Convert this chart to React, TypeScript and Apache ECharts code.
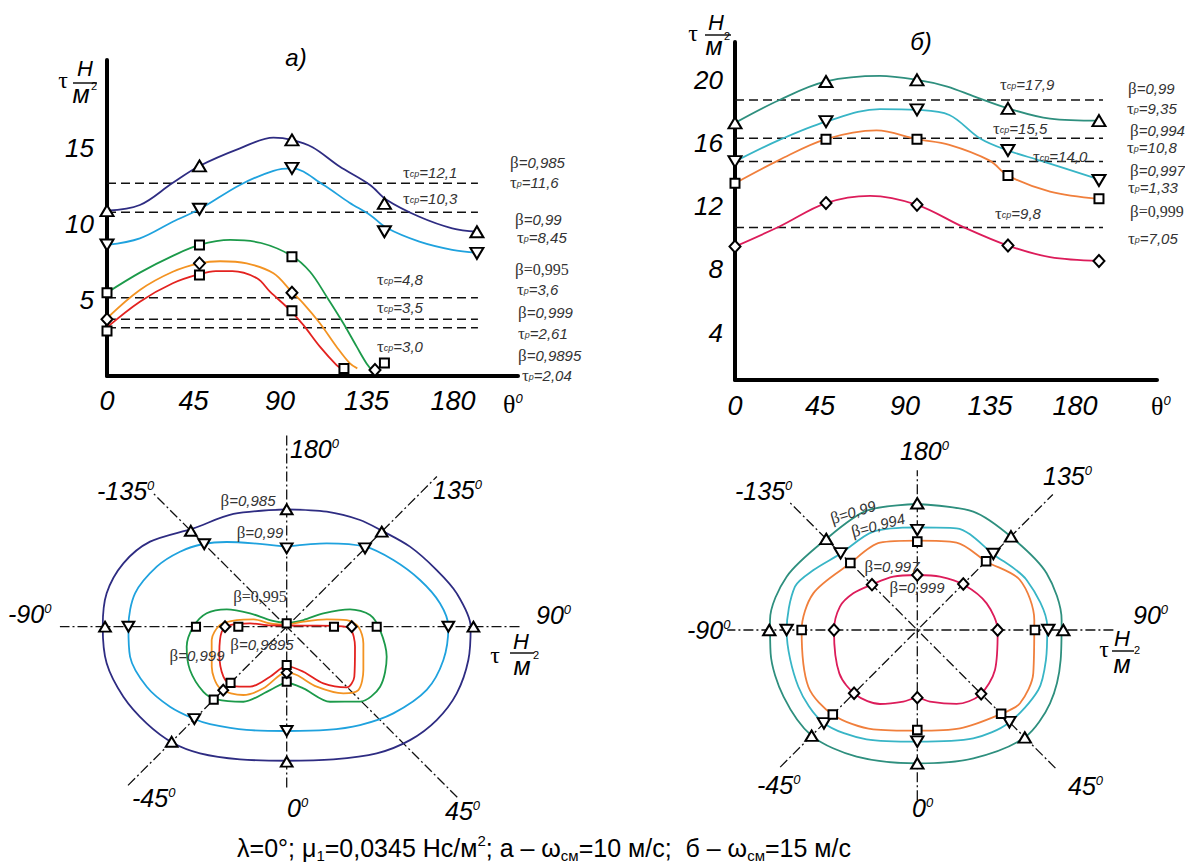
import React, { useEffect, useRef } from "react";
import * as echarts from "echarts";

const SANS = "Liberation Sans, Arial, sans-serif";
const SERIF = "Liberation Serif, Times New Roman, serif";

// ================= (а) ω = 10 м/с : τ(θ) =================
const aColors = ["#2e2c82", "#1fa2de", "#1c9a4a", "#f39322", "#e3221f"];
const aBeta = ["0,985", "0,99", "0,995", "0,999", "0,9895"];
const aTauP = ["11,6", "8,45", "3,6", "2,61", "2,04"];
const aTauMeanText = ["12,1", "10,3", "4,8", "3,5", "3,0"];
const aTauMeanLevel = [12.68, 10.77, 5.15, 3.73, 3.18];

const aCurve985 = [[0, 10.88], [16, 11.25], [31.7, 12.68], [45, 13.82], [64.7, 14.98], [81, 15.68], [90, 15.53], [100, 15.05], [113, 13.8], [128, 12.57], [136, 11.6], [152, 10.48], [168, 9.72], [180, 9.49]];
const aCurve99 = [[0, 8.62], [16, 9.06], [32, 10.15], [45, 10.97], [64.7, 12.57], [81, 13.5], [90, 13.66], [105, 12.6], [118, 11.4], [128, 10.6], [136, 9.75], [152, 8.84], [168, 8.3], [180, 8.1]];
const aCurve995 = [[0, 5.48], [16, 6.8], [32, 7.9], [45, 8.62], [60, 8.95], [75, 8.75], [90, 7.9], [98.8, 6.86], [106.9, 5.22], [115, 3.47], [121.5, 1.93], [126.3, 0.83], [129.6, 0.28]];
const aCurve999 = [[0, 3.8], [16, 5.66], [32, 6.86], [45, 7.41], [55, 7.55], [68, 7.41], [81, 6.76], [89.8, 5.55], [95.5, 4.78], [103.6, 3.47], [111.7, 1.93], [118.2, 0.83], [121.8, 0.5]];
const aCurve9895 = [[0, 3.2], [16, 4.89], [32, 6.1], [45, 6.7], [53, 6.9], [61, 6.9], [73, 6.43], [79.3, 5.55], [89, 4.34], [95.5, 3.36], [103.6, 1.93], [111.7, 0.72], [114.2, 0.5]];

const aMarks985 = [[0, 10.88], [45, 13.82], [90, 15.53], [135, 11.36], [180, 9.49]];
const aMarks99 = [[0, 8.62], [45, 10.97], [90, 13.66], [135, 9.49], [180, 8.07]];
const aMarks995 = [[0, 5.48], [45, 8.62], [90, 7.85], [135, 0.85]];
const aMarks999 = [[0, 3.73], [45, 7.41], [90, 5.48], [130.4, 0.39]];
const aMarks9895 = [[0, 2.96], [45, 6.64], [90, 4.3], [115.3, 0.5]];

// ================= (б) ω = 15 м/с : τ(θ) =================
const bColors = ["#2e8f7e", "#38b5c6", "#f07f3c", "#dc1c5a"];
const bBeta = ["0,99", "0,994", "0,997", "0,999"];
const bTauP = ["9,35", "10,8", "1,33", "7,05"];
const bTauMeanText = ["17,9", "15,5", "14,0", "9,8"];
const bTauMeanLevel = [18.73, 16.31, 14.83, 10.65];

const bCurve99 = [[0, 17.28], [22, 18.73], [45, 19.9], [71.7, 20.25], [90, 20.0], [105, 19.58], [118.5, 18.94], [135, 18.2], [155.8, 17.55], [180, 17.42]];
const bCurve994 = [[0, 14.83], [22, 16.2], [45, 17.36], [71.7, 18.15], [90, 18.1], [106, 17.78], [121, 16.31], [135, 15.53], [151, 14.89], [180, 13.7]];
const bCurve997 = [[0, 13.46], [22, 14.94], [45, 16.25], [70, 16.8], [90, 16.25], [106, 15.89], [126, 14.89], [135, 13.94], [155.8, 12.93], [180, 12.47]];
const bCurve999 = [[0, 9.45], [22, 10.72], [45, 12.2], [66.8, 12.66], [90, 12.09], [113, 10.68], [135, 9.51], [155.8, 8.78], [180, 8.54]];

const bMarks99 = [[0, 17.28], [45, 19.9], [90, 20.0], [135, 18.2], [180, 17.42]];
const bMarks994 = [[0, 14.83], [45, 17.36], [90, 18.1], [135, 15.53], [180, 13.63]];
const bMarks997 = [[0, 13.46], [45, 16.25], [90, 16.25], [135, 13.94], [180, 12.47]];
const bMarks999 = [[0, 9.45], [45, 12.2], [90, 12.09], [135, 9.51], [180, 8.54]];

// ================= polar (а): [θ, τ] =================
const paCurve985 = [[180, 9.78], [160.8, 10.15], [145.5, 10.79], [135.3, 11.26], [123, 12.25], [110.7, 13.36], [101.1, 14.44], [90, 15.33], [79.6, 15.39], [68.6, 15.22], [58.1, 14.72], [47.4, 13.96], [35.4, 12.95], [19.4, 11.72], [0, 11.17], [-19.4, 11.72], [-34.4, 12.79], [-44.5, 13.56], [-55.4, 14.18], [-66.8, 14.81], [-78.5, 15.31], [-90, 15.33], [-100.5, 15.26], [-111.2, 14.6], [-121.9, 13.41], [-136.5, 11.3], [-154.7, 10.39], [-180, 9.78]];
const paCurve99 = [[180, 6.67], [154.4, 7.7], [135.6, 9.33], [122, 10.48], [109.3, 11.77], [98.7, 12.92], [90, 13.47], [78, 13.35], [65.7, 12.8], [50.9, 11.45], [36.7, 10.22], [21.2, 9.23], [0, 8.69], [-21.2, 9.23], [-38.2, 10.33], [-45, 10.88], [-55.6, 11.79], [-66.8, 12.69], [-79.2, 13.29], [-90, 13.19], [-102.4, 12.94], [-114.8, 11.93], [-125.1, 10.87], [-134.8, 9.78], [-144.7, 8.65], [-158.2, 7.48], [-180, 6.67]];
const paCurve995 = [[180, 0.28], [111.8, 1.5], [110, 3.25], [105.3, 5.47], [98, 7.01], [88, 7.78], [73.3, 8.7], [57.3, 9.25], [44.4, 8.74], [30, 7.22], [15.1, 5.32], [0, 4.67], [-14.7, 5.46], [-30, 7.22], [-43.9, 8.41], [-52, 8.81], [-65.9, 8.83], [-78.7, 8.5], [-90, 7.78], [-99.5, 6.76], [-106.1, 5.2], [-110, 3.25], [-111.8, 1.5], [-180, 0.28]];
const paCurve999 = [[180, 0.14], [106.7, 1.45], [100.4, 3.39], [96.3, 5.03], [90, 5.97], [77.7, 6.54], [60.5, 7.34], [48.5, 7.97], [40.4, 7.29], [26.6, 5.59], [11.7, 4.11], [0, 3.83], [-7.9, 4.07], [-20.7, 5.49], [-32.4, 6.74], [-47.2, 7.57], [-61.9, 7.08], [-79.9, 6.35], [-91.4, 5.56], [-97.6, 4.2], [-102.4, 2.84], [-101.3, 1.42], [-180, 0.14]];
const paCurve9895 = [[180, 0.1], [92.5, 1.95], [90.8, 4.17], [88.5, 5.28], [73.7, 5.93], [53.5, 7.01], [44.7, 7.11], [32.9, 5.62], [20.3, 4.0], [0, 3.28], [-18.4, 4.39], [-31.4, 5.86], [-42.3, 6.69], [-51.7, 6.72], [-68.4, 6.04], [-85.6, 5.43], [-91.7, 4.72], [-95.2, 3.07], [-94.6, 1.39], [-180, 0.1]];

const paMarks985 = [[180, 9.78], [-135, 11.3], [135, 11.2], [-90, 15.14], [90, 15.56], [-45, 13.56], [0, 11.25]];
const paMarks99 = [[180, 6.53], [-135, 9.72], [135, 9.23], [-90, 13.19], [90, 13.47], [-45, 10.88], [0, 8.69]];
const paMarks995 = [[180, 0.28], [-90, 7.56], [90, 7.5], [0, 4.58], [-45, 8.6]];
const paMarks999 = [[-90, 5.14], [90, 5.42], [0, 3.83], [-45, 7.48]];
const paMarks9895 = [[-90, 4.03], [90, 3.94], [0, 3.19], [-45, 6.62]];
// dash-dot rays: [θ1, length1, θ2, length2]
const paRays = [[0, 13.4, 180, 16.1], [90, 19.4, -90, 18.9], [45, 20.1, -135, 15.7], [-45, 18.7, 135, 17.7]];

// ================= polar (б): [θ, τ] =================
const pbCurve99 = [[180, 17.03], [154.7, 17.69], [134.5, 17.87], [113.7, 19.08], [94, 19.55], [78.2, 19.79], [61.1, 20.49], [45.1, 20.54], [23.6, 18.92], [0, 18.02], [-25.6, 18.98], [-44.9, 20.2], [-63.5, 20.2], [-81, 20.07], [-93.9, 19.95], [-112.2, 19.07], [-134.8, 17.4], [-157, 17.52], [-180, 17.03]];
const pbCurve994 = [[180, 13.87], [158.9, 14.73], [134.3, 14.53], [114.6, 16.25], [91.5, 17.57], [76.9, 17.85], [63.6, 18.25], [44.3, 17.6], [27.3, 16.48], [0, 15.09], [-24.9, 16.28], [-45.4, 17.84], [-64.5, 17.81], [-89.7, 17.66], [-109.5, 17.54], [-120, 16.2], [-134.5, 14.65], [-155.9, 14.56], [-180, 13.87]];
const pbCurve997 = [[180, 12.07], [155.8, 12.94], [134.6, 13.15], [116, 15.43], [94.9, 15.87], [69.5, 16.73], [54.5, 17.05], [44.9, 16.02], [23.5, 14.49], [0, 13.6], [-23.9, 14.68], [-44.7, 16.15], [-62.5, 16.6], [-90, 15.63], [-109.4, 14.9], [-134.1, 12.8], [-156.9, 12.83], [-180, 12.07]];
const pbCurve999 = [[180, 7.43], [157, 7.83], [133.8, 8.79], [111, 10.04], [89.5, 10.86], [62.8, 11.8], [43.9, 12.2], [28, 11.32], [10, 9.83], [0, 9.14], [-11.05, 9.87], [-26.8, 11.2], [-43.3, 12.08], [-60.9, 12.06], [-89.5, 11.26], [-106.8, 10.92], [-119.8, 9.97], [-135.4, 8.66], [-155.8, 7.9], [-180, 7.43]];

const pbMarks99 = [[180, 17.12], [-135, 17.4], [135, 17.9], [-90, 20.0], [90, 19.73], [-45, 20.2], [45, 20.54], [0, 18.02]];
const pbMarks994 = [[180, 13.51], [-135, 14.65], [135, 14.53], [-90, 17.66], [90, 17.7], [-45, 17.84], [45, 17.6], [0, 15.09]];
const pbMarks997 = [[180, 11.94], [-135, 12.8], [135, 13.15], [-90, 15.63], [90, 15.9], [-45, 16.15], [45, 16.02], [0, 13.51]];
const pbMarks999 = [[180, 7.43], [-135, 8.66], [135, 8.79], [-90, 11.26], [90, 10.86], [-45, 12.08], [45, 12.2], [0, 9.14]];
const pbRays = [[0, 23, 180, 21.6], [90, 26.5, -90, 25.7], [45, 26.4, -135, 24.6], [-45, 26.2, 135, 25.9]];

// ================= builders =================
const MARK_STYLE = { color: "#fff", borderColor: "#000", borderWidth: 2, opacity: 1 };
const UP = { symbol: "triangle", rot: 0, size: [13, 11] };
const DOWN = { symbol: "triangle", rot: 180, size: [13, 11] };
const SQ = { symbol: "rect", rot: 0, size: [9, 9] };
const DIA = { symbol: "diamond", rot: 0, size: [11, 12] };

function cartCurve(data: number[][], color: string, xi: number, yi: number) {
  return { type: "line", xAxisIndex: xi, yAxisIndex: yi, data, smooth: 0.35, showSymbol: false, symbol: "none", lineStyle: { color, width: 1.8 }, silent: true, z: 3 };
}
function cartMarks(data: number[][], m: any, xi: number, yi: number) {
  return { type: "scatter", xAxisIndex: xi, yAxisIndex: yi, data, symbol: m.symbol, symbolRotate: m.rot, symbolSize: m.size, itemStyle: MARK_STYLE, silent: true, z: 5 };
}
function cartDash(v: number, x1: number, xi: number, yi: number) {
  return { type: "line", xAxisIndex: xi, yAxisIndex: yi, data: [[0, v], [x1, v]], showSymbol: false, symbol: "none", lineStyle: { color: "#111", width: 1.5, type: [9, 5] }, silent: true, z: 2 };
}
function polCurve(pts: number[][], color: string, pi: number) {
  return { type: "line", coordinateSystem: "polar", polarIndex: pi, data: pts.map(([t, r]) => [r, t]), smooth: 0.3, showSymbol: false, symbol: "none", lineStyle: { color, width: 1.8 }, silent: true, z: 3 };
}
function polMarks(pts: number[][], m: any, pi: number, scale: number) {
  return { type: "scatter", coordinateSystem: "polar", polarIndex: pi, data: pts.map(([t, r]) => [r, t]), symbol: m.symbol, symbolRotate: m.rot, symbolSize: m.size.map((s: number) => s * scale), itemStyle: MARK_STYLE, silent: true, z: 5 };
}
function polRay(r: number[], pi: number) {
  return { type: "line", coordinateSystem: "polar", polarIndex: pi, data: [[r[1], r[0]], [0, r[0]], [r[3], r[2]]], showSymbol: false, symbol: "none", lineStyle: { color: "#111", width: 1.3, type: [10, 3, 2, 3] }, silent: true, z: 1 };
}

// ---------- text helpers ----------
const INK = "#333";
const RICH = {
  b: { fontFamily: SERIF, fontSize: 17, lineHeight: 13, fill: INK },
  n: { fontFamily: SANS, fontStyle: "italic", fontSize: 15, lineHeight: 13, fill: INK },
  u: { fontFamily: SERIF, fontSize: 16, lineHeight: 13, fill: INK },
  s: { fontFamily: SANS, fontStyle: "italic", fontSize: 9, lineHeight: 7, verticalAlign: "bottom", fill: INK },
  m: { fontFamily: SANS, fontStyle: "italic", fontSize: 25, lineHeight: 24, fill: "#000" },
  o: { fontFamily: SANS, fontStyle: "italic", fontSize: 13, lineHeight: 12, verticalAlign: "top", fill: "#000" },
  th: { fontFamily: SERIF, fontSize: 26, lineHeight: 24, fill: "#000" },
  cap: { fontFamily: SANS, fontSize: 25, lineHeight: 30, fill: "#000" },
  csub: { fontFamily: SANS, fontSize: 15, lineHeight: 15, verticalAlign: "bottom", fill: "#000" },
  csup: { fontFamily: SANS, fontSize: 15, lineHeight: 15, verticalAlign: "top", fill: "#000" },
  ut: { fontFamily: SERIF, fontSize: 24, lineHeight: 14, fill: "#000" },
  uh: { fontFamily: SANS, fontStyle: "italic", fontSize: 22, lineHeight: 16, fill: "#000" },
  um: { fontFamily: SANS, fontStyle: "italic", fontSize: 25, lineHeight: 15, fill: "#000" },
  u2: { fontFamily: SANS, fontSize: 11, lineHeight: 8, fill: "#000" },
  tt: { fontFamily: SANS, fontStyle: "italic", fontSize: 24, lineHeight: 22, fill: "#000" },
};
function T(x: number, y: number, text: string, align = "left", rotation = 0) {
  return { type: "text", x, y, rotation, silent: true, z: 20, style: { text, rich: RICH, textAlign: align, textVerticalAlign: "middle" } };
}
function bar(x1: number, x2: number, y: number) {
  return { type: "line", silent: true, z: 20, shape: { x1, y1: y, x2, y2: y }, style: { stroke: "#000", lineWidth: 1.4 } };
}
const betaT = (v: string) => `{b|β}{n|=${v}}`;
const betaU = (v: string) => `{b|β}{u|=${v}}`;
const tauP = (v: string) => `{b|τ}{s|р}{n|=${v}}`;
const tauM = (v: string) => `{b|τ}{s|ср}{n|=${v}}`;
const ang = (v: string) => `{m|${v}}{o|0}`;

function unit(tx: number, ty: number, hx: number, hy: number, b1: number, b2: number, by: number, mx: number, my: number, sx: number, sy: number) {
  return [
    T(tx, ty, "{ut|τ}", "center"),
    T(hx, hy, "{uh|H}", "center"),
    bar(b1, b2, by),
    T(mx, my, "{um|м}", "center"),
    T(sx, sy, "{u2|2}", "center"),
  ];
}

function buildOption() {
  const series: any[] = [];
  // (а)
  aTauMeanLevel.forEach((v) => series.push(cartDash(v, 180.5, 0, 0)));
  [aCurve985, aCurve99, aCurve995, aCurve999, aCurve9895].forEach((c, i) => series.push(cartCurve(c, aColors[i], 0, 0)));
  const aM = [UP, DOWN, SQ, DIA, SQ];
  [aMarks985, aMarks99, aMarks995, aMarks999, aMarks9895].forEach((d, i) => series.push(cartMarks(d, aM[i], 0, 0)));
  // (б)
  bTauMeanLevel.forEach((v) => series.push(cartDash(v, 182, 2, 1)));
  [bCurve99, bCurve994, bCurve997, bCurve999].forEach((c, i) => series.push(cartCurve(c, bColors[i], 2, 1)));
  const bM = [UP, DOWN, SQ, DIA];
  [bMarks99, bMarks994, bMarks997, bMarks999].forEach((d, i) => series.push(cartMarks(d, bM[i], 2, 1)));
  // polar (а)
  paRays.forEach((r) => series.push(polRay(r, 0)));
  [paCurve985, paCurve99, paCurve995, paCurve999, paCurve9895].forEach((c, i) => series.push(polCurve(c, aColors[i], 0)));
  [paMarks985, paMarks99, paMarks995, paMarks999, paMarks9895].forEach((d, i) => series.push(polMarks(d, aM[i], 0, 0.9)));
  // polar (б)
  pbRays.forEach((r) => series.push(polRay(r, 1)));
  [pbCurve99, pbCurve994, pbCurve997, pbCurve999].forEach((c, i) => series.push(polCurve(c, bColors[i], 1)));
  [pbMarks99, pbMarks994, pbMarks997, pbMarks999].forEach((d, i) => series.push(polMarks(d, bM[i], 1, 0.95)));

  const axisLine = { show: true, onZero: false, lineStyle: { color: "#000", width: 4 } };
  const lbl = (fs: number, margin: number, fmt: (v: number) => string) => ({ fontFamily: SANS, fontStyle: "italic", fontSize: fs, color: "#000", margin, formatter: fmt });

  const graphic: any[] = [
    T(296, 57, "{tt|а)}", "center"),
    T(921, 41, "{tt|б)}", "center"),
    ...unit(63, 80, 85, 68, 73, 97, 83, 81, 94, 94, 86),
    ...unit(693, 33, 716, 22, 705, 731, 35, 714, 46, 727, 36),
    T(503, 404, "{th|θ}{o|0}"),
    T(1151, 406, "{th|θ}{o|0}"),
    // (а) mean levels
    T(403, 172, tauM(aTauMeanText[0])),
    T(403, 198, tauM(aTauMeanText[1])),
    T(377, 279, tauM(aTauMeanText[2])),
    T(377, 307, tauM(aTauMeanText[3])),
    T(377, 346, tauM(aTauMeanText[4])),
    // (а) β / τр
    T(510, 162, betaT(aBeta[0])), T(510, 182, tauP(aTauP[0])),
    T(515, 219, betaT(aBeta[1])), T(517, 237, tauP(aTauP[1])),
    T(515, 269, betaU(aBeta[2])), T(517, 289, tauP(aTauP[2])),
    T(518, 312, betaT(aBeta[3])), T(518, 333, tauP(aTauP[3])),
    T(518, 355, betaT(aBeta[4])), T(522, 375, tauP(aTauP[4])),
    // (б) mean levels
    T(1000, 84, tauM(bTauMeanText[0])),
    T(993, 128, tauM(bTauMeanText[1])),
    T(1033, 156, tauM(bTauMeanText[2])),
    T(995, 213, tauM(bTauMeanText[3])),
    // (б) β / τр
    T(1128, 88, betaT(bBeta[0])), T(1127, 108, tauP(bTauP[0])),
    T(1130, 130, betaT(bBeta[1])), T(1127, 147, tauP(bTauP[1])),
    T(1130, 170, betaT(bBeta[2])), T(1128, 187, tauP(bTauP[2])),
    T(1130, 211, betaU(bBeta[3])), T(1128, 238, tauP(bTauP[3])),
    // polar (а) angle labels
    T(290, 449, ang("180")), T(97, 491, ang("-135")), T(433, 490, ang("135")),
    T(8, 614, ang("-90")), T(536, 615, ang("90")),
    T(132, 798, ang("-45")), T(287, 808, ang("0")), T(445, 811, ang("45")),
    ...unit(495, 655, 521, 641, 510, 534, 653, 522, 666, 536, 655),
    T(248, 500, betaT(aBeta[0]), "center"),
    T(260, 532, betaT(aBeta[1]), "center"),
    T(260, 596, betaU(aBeta[2]), "center"),
    T(262, 644, betaT(aBeta[4]), "center"),
    T(197, 655, betaT(aBeta[3]), "center"),
    // polar (б) angle labels
    T(900, 451, ang("180")), T(735, 491, ang("-135")), T(1043, 476, ang("135")),
    T(687, 630, ang("-90")), T(1133, 615, ang("90")),
    T(757, 785, ang("-45")), T(912, 808, ang("0")), T(1068, 786, ang("45")),
    ...unit(1104, 649, 1122, 638, 1112, 1134, 651, 1122, 664, 1137, 650),
    T(853, 512, betaT(bBeta[0]), "center", 0.3),
    T(878, 525, betaT(bBeta[1]), "center", 0.26),
    T(892, 566, betaT(bBeta[2]), "center"),
    T(917, 587, betaT(bBeta[3]), "center"),
    // caption
    T(544, 848, "{cap|λ=0°; μ}{csub|1}{cap|=0,0345 Нс/м}{csup|2}{cap|; а – ω}{csub|см}{cap|=10 м/с;  б – ω}{csub|см}{cap|=15 м/с}", "center"),
  ];

  return {
    animation: false,
    backgroundColor: "#fff",
    grid: [
      { left: 107, top: 60, width: 411, height: 316 },
      { left: 735, top: 42, width: 422, height: 338 },
    ],
    xAxis: [
      { gridIndex: 0, type: "value", position: "bottom", min: 0, max: 200, show: false },
      { gridIndex: 0, type: "value", position: "bottom", min: 0, max: 213.8, interval: 45, axisLine, axisTick: { show: false }, splitLine: { show: false }, axisLabel: lbl(27, 11, (v) => (v <= 180 ? String(v) : "")) },
      { gridIndex: 1, type: "value", position: "bottom", min: 0, max: 208.7, show: false },
      { gridIndex: 1, type: "value", position: "bottom", min: 0, max: 223.4, interval: 45, axisLine, axisTick: { show: false }, splitLine: { show: false }, axisLabel: lbl(27, 12, (v) => (v <= 180 ? String(v) : "")) },
    ],
    yAxis: [
      { gridIndex: 0, type: "value", min: 0, max: 20.79, interval: 5, axisLine, axisTick: { show: false }, splitLine: { show: false }, axisLabel: lbl(26, 13, (v) => (v > 0 && v <= 15 && v % 5 === 0 ? String(v) : "")) },
      { gridIndex: 1, type: "value", min: 1, max: 22.4, interval: 1, axisLine, axisTick: { show: false }, splitLine: { show: false }, axisLabel: lbl(26, 12, (v) => (v > 0 && v <= 20 && v % 4 === 0 ? String(v) : "")) },
    ],
    polar: [
      { center: [286.7, 626.7], radius: 252 },
      { center: [917.3, 630], radius: 199.8 },
    ],
    angleAxis: [
      { polarIndex: 0, type: "value", min: -180, max: 180, startAngle: 90, clockwise: false, show: false },
      { polarIndex: 1, type: "value", min: -180, max: 180, startAngle: 90, clockwise: false, show: false },
    ],
    radiusAxis: [
      { polarIndex: 0, type: "value", min: 0, max: 21, show: false },
      { polarIndex: 1, type: "value", min: 0, max: 27, show: false },
    ],
    graphic: { elements: graphic },
    series,
  };
}

export default function App() {
  const ref = useRef<HTMLDivElement>(null);
  useEffect(() => {
    const chart = echarts.init(ref.current as HTMLDivElement, null, { renderer: "svg" });
    chart.setOption(buildOption() as any);
    return () => chart.dispose();
  }, []);
  return <div ref={ref} style={{ position: "absolute", left: 0, top: 0, width: 1185, height: 868, background: "#fff" }} />;
}
